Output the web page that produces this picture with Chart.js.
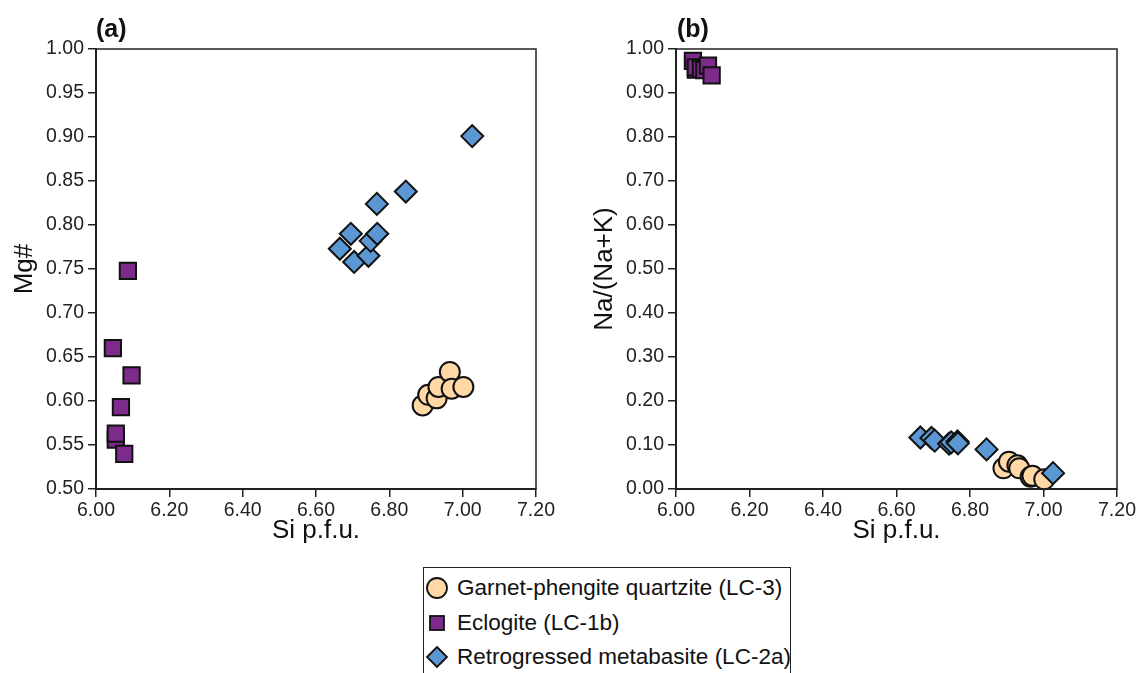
<!DOCTYPE html>
<html>
<head>
<meta charset="utf-8">
<script src="https://cdn.jsdelivr.net/npm/chart.js@4.4.1/dist/chart.umd.min.js"></script>
<style>
  body { margin: 0; background: #fff; font-family: 'Liberation Sans', Arial, sans-serif; }
  .wrap { position: relative; width: 1148px; height: 673px; overflow: hidden; }
  .panel { position: absolute; top: 0; }
  .tag { position: absolute; top: 16px; font-weight: bold; font-size: 25px; line-height: 24px; color: #111; }
  .legend { position: absolute; left: 423px; top: 567px; width: 368px; height: 120px;
            box-sizing: border-box; border: 1px solid #222; }
  .item { position: absolute; left: 0; height: 26px; font-size: 22.5px; line-height: 26px; color: #111; white-space: nowrap; }
  .item svg { position: absolute; left: 1px; top: 1px; }
  .item span { position: absolute; left: 33px; top: 0; }
</style>
</head>
<body>
<div class="wrap">
  <div class="panel" style="left:0"><canvas id="chartA" width="560" height="560"></canvas></div>
  <div class="panel" style="left:580px"><canvas id="chartB" width="568" height="560"></canvas></div>
  <div class="tag" style="left:96px">(a)</div>
  <div class="tag" style="left:677px">(b)</div>
  <div class="legend">
    <div class="item" style="top:7px">
      <svg width="26" height="24"><circle cx="12" cy="12" r="10" fill="#ffd8a6" stroke="#111" stroke-width="1.8"/></svg>
      <span>Garnet-phengite quartzite (LC-3)</span>
    </div>
    <div class="item" style="top:42px">
      <svg width="26" height="24"><rect x="5" y="5" width="14" height="14" fill="#7d2b8b" stroke="#111" stroke-width="1.8"/></svg>
      <span>Eclogite (LC-1b)</span>
    </div>
    <div class="item" style="top:76px">
      <svg width="26" height="24"><polygon points="12,2 22,12 12,22 2,12" fill="#5b97d3" stroke="#111" stroke-width="1.8"/></svg>
      <span>Retrogressed metabasite (LC-2a)</span>
    </div>
  </div>
</div>
<script>
// Garnet-phengite quartzite (LC-3)
const qtzSi = [6.891, 6.906, 6.929, 6.934, 6.965, 6.970, 7.002];
const qtzMg = [0.595, 0.607, 0.603, 0.616, 0.633, 0.614, 0.616];
const qtzNa = [0.047, 0.062, 0.054, 0.047, 0.028, 0.030, 0.022];

// Eclogite (LC-1b)
const eclSi = [6.046, 6.054, 6.054, 6.068, 6.077, 6.087, 6.097];
const eclMg = [0.660, 0.556, 0.563, 0.593, 0.540, 0.748, 0.629];
const eclNa = [0.973, 0.953, 0.958, 0.955, 0.952, 0.962, 0.940];

// Retrogressed metabasite (LC-2a)
const metSi = [6.665, 6.695, 6.704, 6.743, 6.749, 6.766, 6.767, 6.845, 7.026];
const metMg = [0.773, 0.790, 0.758, 0.765, 0.782, 0.824, 0.790, 0.838, 0.901];
const metNa = [0.117, 0.116, 0.110, 0.103, 0.106, 0.108, 0.104, 0.090, 0.036];

const xTicks = [6.0, 6.2, 6.4, 6.6, 6.8, 7.0, 7.2];

const font = 'Liberation Sans, Arial, sans-serif';
const ink = '#222';

const pts = (xs, ys) => xs.map((x, i) => ({ x: x, y: ys[i] }));

// box around the plot area (top and right sides)
const frame = {
  id: 'frame',
  afterDraw(chart) {
    const { ctx, chartArea: a } = chart;
    ctx.save();
    ctx.strokeStyle = ink;
    ctx.lineWidth = 1.5;
    ctx.strokeRect(a.left, a.top, a.right - a.left, a.bottom - a.top);
    ctx.restore();
  }
};

const renderChart = (id, yKey, yMin, yMax, yStep, yTitle, padRight) => {
  const mg = yKey === 'mg';
  new Chart(document.getElementById(id), {
    type: 'scatter',
    data: {
      datasets: [
        {
          label: 'Retrogressed metabasite (LC-2a)',
          data: pts(metSi, mg ? metMg : metNa),
          pointStyle: 'rectRot', pointRadius: 11,
          backgroundColor: '#5b97d3', borderColor: '#111', borderWidth: 2,
          order: 0
        },
        {
          label: 'Garnet-phengite quartzite (LC-3)',
          data: pts(qtzSi, mg ? qtzMg : qtzNa),
          pointStyle: 'circle', pointRadius: 10,
          backgroundColor: '#ffd8a6', borderColor: '#111', borderWidth: 2,
          order: 1
        },
        {
          label: 'Eclogite (LC-1b)',
          data: pts(eclSi, mg ? eclMg : eclNa),
          pointStyle: 'rect', pointRadius: 11.5,
          backgroundColor: '#7d2b8b', borderColor: '#111', borderWidth: 2,
          order: 2
        }
      ]
    },
    options: {
      responsive: false,
      animation: false,
      events: [],
      clip: false,
      layout: { padding: { top: 49, right: padRight, left: 0, bottom: 0 } },
      plugins: { legend: { display: false }, tooltip: { enabled: false } },
      scales: {
        x: {
          type: 'linear', min: 6, max: 7.2,
          afterBuildTicks: s => { s.ticks = xTicks.map(v => ({ value: v })); },
          ticks: { callback: v => v.toFixed(2), font: { size: 19.5, family: font }, color: ink, padding: 2, maxRotation: 0, autoSkip: false },
          grid: { drawOnChartArea: false, tickLength: 8, color: ink, lineWidth: 1.5 },
          border: { color: ink, width: 2 },
          title: { display: true, text: 'Si p.f.u.', font: { size: 26, family: font }, color: '#111', padding: { top: 0, bottom: 14 } },
          afterFit: s => { s.height = 71; }
        },
        y: {
          type: 'linear', min: yMin, max: yMax,
          ticks: { stepSize: yStep, callback: v => v.toFixed(2), font: { size: 19.5, family: font }, color: ink, padding: 4 },
          grid: { drawOnChartArea: false, tickLength: 8, color: ink, lineWidth: 1.5 },
          border: { color: ink, width: 2 },
          title: { display: true, text: yTitle, font: { size: 26, family: font }, color: '#111', padding: { top: 9, bottom: 0 } },
          afterFit: s => { s.width = 96; }
        }
      }
    },
    plugins: [frame]
  });
};

renderChart('chartA', 'mg', 0.5, 1.0, 0.05, 'Mg#', 24);
renderChart('chartB', 'na', 0, 1.0, 0.1, 'Na/(Na+K)', 31);
</script>
</body>
</html>
